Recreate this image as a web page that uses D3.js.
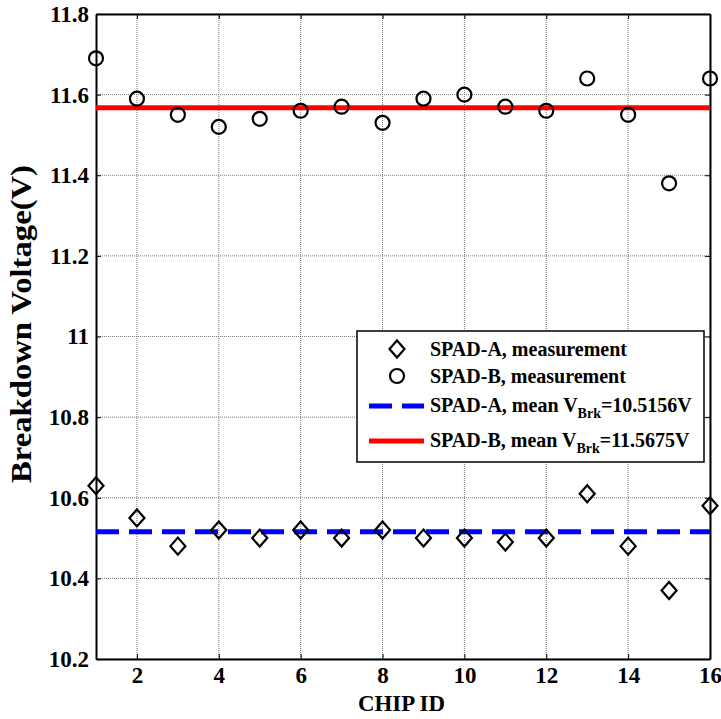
<!DOCTYPE html>
<html><head><meta charset="utf-8">
<script src="https://cdn.jsdelivr.net/npm/d3@7/dist/d3.min.js"></script>
<style>body{margin:0;background:#fff}svg{display:block}</style>
</head><body>
<script>
const chipIds = [1,2,3,4,5,6,7,8,9,10,11,12,13,14,15,16];
const spadA = [10.63,10.55,10.48,10.52,10.50,10.52,10.50,10.52,10.50,10.50,10.49,10.50,10.61,10.48,10.37,10.58];
const spadB = [11.69,11.59,11.55,11.52,11.54,11.56,11.57,11.53,11.59,11.60,11.57,11.56,11.64,11.55,11.38,11.64];
const meanA = 10.5156, meanB = 11.5675;
const xTicks = [2,4,6,8,10,12,14,16];
const yTicks = [10.2,10.4,10.6,10.8,11,11.2,11.4,11.6,11.8];

const FONT = '"Liberation Serif","Times New Roman",serif';
const W=721,H=719;
const m={l:96,r:11,t:14,b:60};
const svg=d3.select("body").append("svg").attr("width",W).attr("height",H)
  .attr("font-family",FONT).attr("font-weight","bold");
const x=d3.scaleLinear().domain([1,16]).range([m.l,W-m.r]);
const y=d3.scaleLinear().domain([10.2,11.8]).range([H-m.b,m.t]);

// grid
const g=svg.append("g");
g.selectAll(".gx").data(xTicks).join("line").attr("x1",d=>x(d)).attr("x2",d=>x(d)).attr("y1",m.t).attr("y2",H-m.b)
 .attr("stroke","#777").attr("stroke-width",1).attr("stroke-dasharray","1,1");
g.selectAll(".gy").data(yTicks).join("line").attr("y1",d=>y(d)).attr("y2",d=>y(d)).attr("x1",m.l).attr("x2",W-m.r)
 .attr("stroke","#777").attr("stroke-width",1).attr("stroke-dasharray","1,1");

// axes
const ax=svg.append("g").attr("transform",`translate(0,${H-m.b})`).call(d3.axisBottom(x).tickValues(xTicks).tickSizeInner(-5).tickSizeOuter(0).tickPadding(8));
const ay=svg.append("g").attr("transform",`translate(${m.l},0)`).call(d3.axisLeft(y).tickValues(yTicks).tickSizeInner(-5).tickSizeOuter(0).tickPadding(7).tickFormat(d=>d===11?"11":d3.format(".1f")(d)));
const at=svg.append("g").attr("transform",`translate(0,${m.t})`).call(d3.axisTop(x).tickValues(xTicks).tickSizeInner(-5).tickSizeOuter(0).tickFormat(""));
const ar=svg.append("g").attr("transform",`translate(${W-m.r},0)`).call(d3.axisRight(y).tickValues(yTicks).tickSizeInner(-5).tickSizeOuter(0).tickFormat(""));
[ax,ay,at,ar].forEach(a=>{a.attr("font-family",FONT).attr("font-weight","bold");a.select(".domain").attr("stroke","#000").attr("stroke-width",2);a.selectAll(".tick line").attr("stroke","#000");});
[ax,ay].forEach(a=>a.selectAll("text").attr("font-size",23).attr("fill","#000").attr("font-family",FONT).attr("font-weight","bold"));

// mean lines
svg.append("line").attr("x1",x(1)).attr("x2",x(16)).attr("y1",y(meanB)).attr("y2",y(meanB)).attr("stroke","#ff0000").attr("stroke-width",5);
svg.append("line").attr("x1",x(1)).attr("x2",x(16)).attr("y1",y(meanA)).attr("y2",y(meanA)).attr("stroke","#0000ff").attr("stroke-width",5).attr("stroke-dasharray","23,10");

// markers
const diamond=(cx,cy)=>`M${cx},${cy-8.5}L${cx+7.5},${cy}L${cx},${cy+8.5}L${cx-7.5},${cy}Z`;
svg.selectAll(".a").data(chipIds).join("path").attr("d",(d,i)=>diamond(x(d),y(spadA[i])))
 .attr("fill","none").attr("stroke","#000").attr("stroke-width",2.2);
svg.selectAll(".b").data(chipIds).join("circle").attr("cx",d=>x(d)).attr("cy",(d,i)=>y(spadB[i])).attr("r",7)
 .attr("fill","none").attr("stroke","#000").attr("stroke-width",2.2);

// axis titles
svg.append("text").attr("x",(358+445)/2).attr("y",711).attr("text-anchor","middle").attr("font-size",24)
  .attr("textLength",87).attr("lengthAdjust","spacingAndGlyphs").text("CHIP ID");
svg.append("text").attr("transform",`translate(31,324) rotate(-90)`).attr("text-anchor","middle").attr("font-size",30)
  .attr("textLength",318).attr("lengthAdjust","spacingAndGlyphs").text("Breakdown Voltage(V)");

// legend
const lg=svg.append("g");
lg.append("rect").attr("x",357).attr("y",331).attr("width",347).attr("height",131).attr("fill","#fff").attr("stroke","#000").attr("stroke-width",1.5);
const mk=[349,376,406,441], tb=[356,383,412,447];
lg.append("path").attr("d",diamond(397,mk[0])).attr("fill","none").attr("stroke","#000").attr("stroke-width",2.2);
lg.append("circle").attr("cx",397).attr("cy",mk[1]).attr("r",7).attr("fill","none").attr("stroke","#000").attr("stroke-width",2.2);
lg.append("line").attr("x1",369).attr("x2",424).attr("y1",mk[2]).attr("y2",mk[2]).attr("stroke","#0000ff").attr("stroke-width",5).attr("stroke-dasharray","23,10");
lg.append("line").attr("x1",369).attr("x2",424).attr("y1",mk[3]).attr("y2",mk[3]).attr("stroke","#ff0000").attr("stroke-width",5);
const tx=430;
lg.append("text").attr("x",tx).attr("y",tb[0]).attr("font-size",20).text("SPAD-A, measurement");
lg.append("text").attr("x",tx).attr("y",tb[1]).attr("font-size",20).text("SPAD-B, measurement");
const t3=lg.append("text").attr("x",tx).attr("y",tb[2]).attr("font-size",20);
t3.append("tspan").text("SPAD-A, mean V");
t3.append("tspan").attr("font-size",14).attr("dy",6).text("Brk");
t3.append("tspan").attr("dy",-6).text("="+meanA+"V");
const t4=lg.append("text").attr("x",tx).attr("y",tb[3]).attr("font-size",20);
t4.append("tspan").text("SPAD-B, mean V");
t4.append("tspan").attr("font-size",14).attr("dy",6).text("Brk");
t4.append("tspan").attr("dy",-6).text("="+meanB+"V");
</script>
</body></html>
